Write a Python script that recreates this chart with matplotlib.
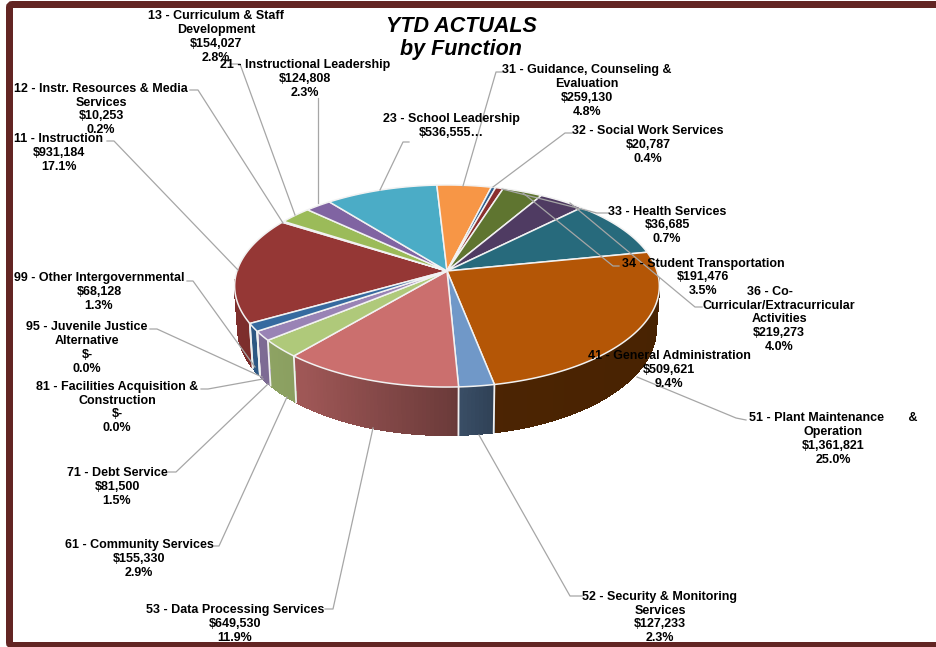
import numpy as np
import matplotlib
matplotlib.use("Agg")
import matplotlib.pyplot as plt
from matplotlib.patches import FancyBboxPatch

plt.rcParams['font.family'] = ['Liberation Sans', 'DejaVu Sans']

names = ["11 - Instruction", "12 - Instr. Resources & Media\nServices",
         "13 - Curriculum & Staff\nDevelopment", "21 - Instructional Leadership",
         "23 - School Leadership", "31 - Guidance, Counseling &\nEvaluation",
         "32 - Social Work Services", "33 - Health Services",
         "34 - Student Transportation", "36 - Co-     \nCurricular/Extracurricular\nActivities",
         "41 - General Administration", "51 - Plant Maintenance       &\nOperation",
         "52 - Security & Monitoring\nServices", "53 - Data Processing Services",
         "61 - Community Services", "71 - Debt Service",
         "81 - Facilities Acquisition &\nConstruction",
         "95 - Juvenile Justice\nAlternative", "99 - Other Intergovernmental"]
values = [931184, 10253, 154027, 124808, 536555, 259130, 20787, 36685, 191476, 219273,
          509621, 1361821, 127233, 649530, 155330, 81500, 0, 0, 68128]
amounts = ["$931,184", "$10,253", "$154,027", "$124,808", "$536,555…", "$259,130", "$20,787",
           "$36,685", "$191,476", "$219,273", "$509,621", "$1,361,821", "$127,233", "$649,530",
           "$155,330", "$81,500", "$-", "$-", "$68,128"]
percents = ["17.1%", "0.2%", "2.8%", "2.3%", "", "4.8%", "0.4%", "0.7%", "3.5%", "4.0%", "9.4%",
            "25.0%", "2.3%", "11.9%", "2.9%", "1.5%", "0.0%", "0.0%", "1.3%"]
colors = ["#953735", "#C0504D", "#9BBB59", "#8064A2", "#4BACC6", "#F79646", "#2C5F8F", "#8B2F2D",
          "#5F7530", "#4F3B62", "#276A7C", "#B45606", "#7098C8", "#CB6F6E", "#AFC97A", "#9983B5",
          "#6FBDD1", "#F9AA6A", "#366A9F"]

# label centre x, y of first line, y of last line
label_pos = [(59, 138, 166), (101, 87, 130), (216, 15, 57), (305, 64, 92), (451, 118, 132),
             (587, 69, 111), (648, 130, 158), (667, 210, 239), (703, 262, 291), (779, 290, 347),
             (669, 355, 383), (833, 417, 459), (660, 595, 638), (235, 608, 638), (139, 544, 572),
             (117, 472, 500), (117, 385, 428), (87, 326, 368), (99, 277, 305)]

leaders = [[(107, 141), (114, 141), (238, 270)],
           [(190, 90), (198, 90), (283, 223)],
           [(230, 64), (240, 64), (295, 215)],
           [(318, 98), (318, 203)],
           [(409, 142), (403, 142), (380, 190)],
           [(503, 72), (496, 72), (463, 186)],
           [(572, 133), (565, 133), (493, 187)],
           [(608, 213), (597, 213), (502, 189)],
           [(619, 266), (613, 266), (523, 193)],
           [(702, 307), (695, 307), (570, 203)],
           [(637, 377), (736, 418), (746, 420)],
           [(479, 435), (570, 596), (582, 596)],
           [(373, 428), (333, 609), (325, 609)],
           [(287, 397), (219, 546), (214, 546)],
           [(268, 384), (176, 472), (168, 472)],
           [(201, 389), (208, 389), (263, 379)],
           [(150, 329), (157, 329), (262, 377)],
           [(187, 281), (193, 281), (255, 367)]]

# pie geometry in pixels, with a little perspective
cx, cy = 447, 271
rx, ry = 210, 98.8
persp = 0.1485
depth = 41
start = 209.5


def top_ring(theta):
    u, v = np.cos(np.radians(theta)), np.sin(np.radians(theta))
    w = 1 + persp * v
    return cx + rx * u / w, cy - ry * v / w


def low_ring(theta):
    x, y = top_ring(theta)
    v = np.sin(np.radians(theta))
    return cx + (x - cx) * 0.985, y + depth / (1 + persp * v)


def wall_shade(theta):
    u = np.cos(np.radians(theta))
    return np.interp(u, [-1, -0.6, 0, 0.2, 1], [0.85, 0.78, 0.54, 0.42, 0.40])


fig = plt.figure(figsize=(9.36, 6.47), dpi=100)
ax = fig.add_axes([0, 0, 1, 1])
ax.set_xlim(0, 936)
ax.set_ylim(647, 0)
ax.axis("off")

frame = FancyBboxPatch((9.5, 4.5), 960, 641, boxstyle="round,pad=0,rounding_size=3",
                       fc="white", ec="#632523", lw=5.04)
ax.add_patch(frame)

fracs = np.array(values) / sum(values)
edges = start - 360 * np.concatenate([[0], np.cumsum(fracs)])

# side walls first, the top faces then cover what is left of them
for i, col in enumerate(colors):
    if values[i] == 0:
        continue
    th = np.linspace(edges[i], edges[i + 1], max(3, int(abs(edges[i + 1] - edges[i])) + 2))
    base = np.array(matplotlib.colors.to_rgb(col))
    for a, b in zip(th[:-1], th[1:]):
        # the back of the wall is hidden anyway, and would poke out past the rim
        if np.sin(np.radians((a + b) / 2)) > -0.08:
            continue
        xt, yt = top_ring(np.array([a, b]))
        xl, yl = low_ring(np.array([b, a]))
        c = base * wall_shade((a + b) / 2)
        # no antialias, otherwise the seams between strips show as stripes
        ax.fill(np.r_[xt, xl], np.r_[yt, yl], fc=c, ec=c, lw=0.6, antialiased=False, zorder=2)
for t in edges:
    if np.sin(np.radians(t)) < -0.1:
        xt, yt = top_ring(t)
        xl, yl = low_ring(t)
        ax.plot([xt, xl], [yt, yl], color="#F0F0F0", lw=1.3, zorder=3)

for i, col in enumerate(colors):
    if values[i] == 0:
        continue
    th = np.linspace(edges[i], edges[i + 1], max(3, int(abs(edges[i + 1] - edges[i]) * 2)))
    x, y = top_ring(th)
    ax.fill(np.r_[cx, x], np.r_[cy, y], fc=col, ec="#F2F2F2", lw=1.1, joinstyle="round", zorder=4)

for pts in leaders:
    xs, ys = zip(*pts)
    ax.plot(xs, ys, color="#A6A6A6", lw=0.9, zorder=5)

for name, amount, pct, (lx, y0, y1) in zip(names, amounts, percents, label_pos):
    lines = [name, amount] + ([pct] if pct else [])
    ax.text(lx, (y0 + y1) / 2 + 1, "\n".join(lines), ha="center", va="center", ma="center",
            fontsize=9, fontweight="bold", color="black", linespacing=1.19, zorder=6)

ax.text(461, 26, "YTD ACTUALS", ha="center", va="center", fontsize=15.5,
        fontweight="bold", fontstyle="italic", zorder=6)
ax.text(461, 50, "by Function", ha="center", va="center", fontsize=15.5,
        fontweight="bold", fontstyle="italic", zorder=6)

fig.savefig("out.png", dpi=100)
